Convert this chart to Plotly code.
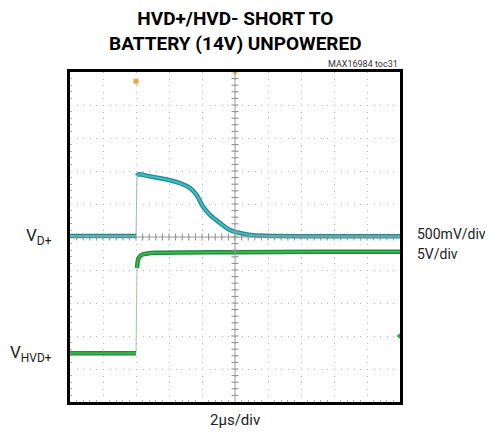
import plotly.graph_objects as go

# time and level in scope divisions (10 x 10 screen)
vd_pre_t = [0.0, 2.0]
vd_pre_v = [5.03, 5.03]
vd_post_t = [2.03, 2.07, 2.4, 2.73, 3.03, 3.33, 3.64, 3.84, 4.03, 4.24, 4.55, 4.85, 5.15, 5.55, 6.2, 7.5, 10.0]
vd_post_v = [6.85, 6.9, 6.84, 6.78, 6.72, 6.63, 6.48, 6.27, 5.92, 5.67, 5.42, 5.21, 5.12, 5.05, 5.03, 5.02, 5.02]

hvd_pre_t = [0.0, 2.0]
hvd_pre_v = [1.48, 1.48]
hvd_post_t = [2.03, 2.06, 2.12, 2.2, 2.35, 2.6, 3.5, 5.0, 7.5, 10.0]
hvd_post_v = [4.06, 4.3, 4.42, 4.47, 4.5, 4.52, 4.53, 4.54, 4.55, 4.55]

FONT = "Roboto, Liberation Sans, sans-serif"
CYAN_DARK = "#1f8a91"
CYAN = "#45bcc2"
GREEN_DARK = "#1e8a3a"
GREEN = "#3cb44f"

fig = go.Figure()

# fast edges are thin and faint
fig.add_trace(go.Scatter(x=[vd_pre_t[-1], vd_post_t[0]], y=[vd_pre_v[-1], vd_post_v[0]],
                         mode="lines", line=dict(color="#9fb8b9", width=1), hoverinfo="skip"))
fig.add_trace(go.Scatter(x=[hvd_pre_t[-1], hvd_post_t[0]], y=[hvd_pre_v[-1], hvd_post_v[0]],
                         mode="lines", line=dict(color="#a9c2ab", width=1), hoverinfo="skip"))

for t, v, dark, light in [(vd_pre_t, vd_pre_v, CYAN_DARK, CYAN), (vd_post_t, vd_post_v, CYAN_DARK, CYAN),
                          (hvd_pre_t, hvd_pre_v, GREEN_DARK, GREEN), (hvd_post_t, hvd_post_v, GREEN_DARK, GREEN)]:
    fig.add_trace(go.Scatter(x=t, y=v, mode="lines", line=dict(color=dark, width=4.5, shape="spline", smoothing=0.6),
                             hoverinfo="skip"))
    fig.add_trace(go.Scatter(x=t, y=v, mode="lines", line=dict(color=light, width=2, shape="spline", smoothing=0.6),
                             hoverinfo="skip"))

# centre crosshair with small ticks every 0.2 div
ticks = [i * 0.2 for i in range(1, 50)]
fig.add_trace(go.Scatter(x=[5.0] * len(ticks), y=ticks, mode="markers",
                         marker=dict(symbol="line-ew", size=5, line=dict(color="#888888", width=1)),
                         hoverinfo="skip"))
fig.add_trace(go.Scatter(x=ticks, y=[5.0] * len(ticks), mode="markers",
                         marker=dict(symbol="line-ns", size=5, line=dict(color="#888888", width=1)),
                         hoverinfo="skip"))
fig.add_shape(type="line", x0=5, x1=5, y0=0, y1=10, line=dict(color="#999999", width=1))
fig.add_shape(type="line", x0=0, x1=10, y0=5, y1=5, line=dict(color="#999999", width=1))

# scope markers: trigger position, trigger level, ground reference
fig.add_trace(go.Scatter(x=[2.0], y=[9.72], mode="markers", cliponaxis=False,
                         marker=dict(symbol="square", size=5, color="#f2a33a"), hoverinfo="skip"))
fig.add_trace(go.Scatter(x=[5.0], y=[9.97], mode="markers", cliponaxis=False,
                         marker=dict(symbol="triangle-down", size=5, color="#f2a33a"), hoverinfo="skip"))
fig.add_trace(go.Scatter(x=[9.97], y=[2.0], mode="markers", cliponaxis=False,
                         marker=dict(symbol="triangle-left", size=5, color="#2fa84a"), hoverinfo="skip"))

axis = dict(range=[0, 10], dtick=1, showticklabels=False, showgrid=True, gridcolor="#b5b5b5",
            griddash="1px,5.6px", zeroline=False, showline=True, linecolor="black", linewidth=3,
            mirror=True, ticks="", fixedrange=True,
            minor=dict(dtick=0.2, ticks="inside", ticklen=2, tickcolor="#aaaaaa", showgrid=False))

fig.update_layout(
    width=489, height=436,
    margin=dict(l=70, r=89, t=72, b=34),
    paper_bgcolor="white", plot_bgcolor="white",
    showlegend=False,
    xaxis=axis, yaxis=axis,
    font=dict(family=FONT, color="#222222"),
)

fig.add_annotation(text="<b>HVD+/HVD- SHORT TO<br>BATTERY (14V) UNPOWERED</b>", xref="paper", yref="paper",
                   x=0.5, y=1.0, yshift=67, xanchor="center", yanchor="top", showarrow=False,
                   font=dict(size=19, color="black", family=FONT))
fig.add_annotation(text="MAX16984 toc31", xref="paper", yref="paper", x=1.0, y=1.0, yshift=1,
                   xanchor="right", yanchor="bottom", showarrow=False, font=dict(size=9, color="#333333"))
fig.add_annotation(text="V<sub>D+</sub>", xref="paper", yref="y", x=-0.05, y=5.03, xanchor="right",
                   yanchor="middle", showarrow=False, font=dict(size=17))
fig.add_annotation(text="V<sub>HVD+</sub>", xref="paper", yref="y", x=-0.05, y=1.48, xanchor="right",
                   yanchor="middle", showarrow=False, font=dict(size=17))
fig.add_annotation(text="500mV/div", xref="paper", yref="y", x=1.045, y=5.1, xanchor="left",
                   yanchor="middle", showarrow=False, font=dict(size=14))
fig.add_annotation(text="5V/div", xref="paper", yref="y", x=1.045, y=4.5, xanchor="left",
                   yanchor="middle", showarrow=False, font=dict(size=14))
fig.add_annotation(text="2µs/div", xref="paper", yref="paper", x=0.5, y=0, yshift=-18,
                   xanchor="center", yanchor="middle", showarrow=False, font=dict(size=15))

# drop the default page margin so the figure fills the window exactly
fig.write_html("out.html", config={"displayModeBar": False},
               post_script="document.body.style.margin='0';")
